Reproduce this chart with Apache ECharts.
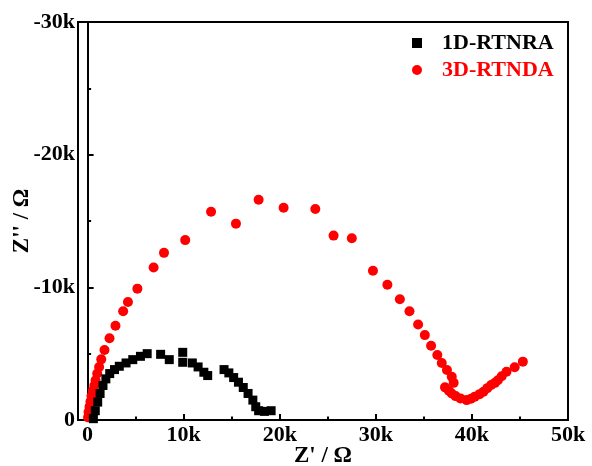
<!DOCTYPE html>
<html>
<head>
<meta charset="utf-8">
<script src="https://cdn.jsdelivr.net/npm/echarts@6/dist/echarts.min.js"></script>
<style>
  html, body { margin: 0; padding: 0; background: #fff; }
  #chart { width: 592px; height: 466px; }
</style>
</head>
<body>
<div id="chart"></div>
<script>
  // Z' (Ω) and Z'' (Ω)
  const rtnraX = [600, 800, 1050, 1300, 1600, 1900, 2300, 2800, 3300, 4000, 4700, 5500, 6200, 7600, 8500, 9900, 9900, 10900, 11500, 12100, 12500, 14200, 14700, 15200, 15700, 16200, 16700, 17200, 17500, 17800, 18400, 19100];
  const rtnraY = [-100, -700, -1350, -2000, -2600, -3100, -3500, -3800, -4050, -4300, -4550, -4800, -5000, -4950, -4550, -5100, -4350, -4300, -4000, -3600, -3350, -3800, -3550, -3200, -2850, -2450, -2000, -1500, -1000, -700, -650, -700];

  const rtndaX = [50, 100, 200, 300, 400, 550, 700, 830, 1000, 1200, 1420, 1760, 2280, 2900, 3700, 4200, 5180, 6870, 7950, 10160, 12850, 15440, 17800, 20400, 23700, 25600, 27500, 29700, 31200, 32500, 33500, 34400, 35100, 35750, 36400, 36860, 37400, 37900, 38100, 37200, 37600, 37900, 38300, 38800, 39450, 39900, 40300, 40800, 41200, 41600, 42000, 42400, 42700, 43100, 43600, 44450, 45300];
  const rtndaY = [-200, -600, -1000, -1400, -1800, -2200, -2600, -3000, -3500, -4000, -4570, -5270, -6160, -7100, -8200, -8900, -9900, -11500, -12600, -13560, -15700, -14800, -16600, -16000, -15900, -13900, -13700, -11250, -10200, -9100, -8200, -7200, -6400, -5600, -4900, -4300, -3770, -3260, -2800, -2460, -2200, -2000, -1800, -1630, -1500, -1600, -1760, -1950, -2130, -2400, -2640, -2800, -3000, -3300, -3640, -3970, -4400];

  const xMajorTicks = [0, 10000, 20000, 30000, 40000, 50000];
  const xMinorTicks = [5000, 15000, 25000, 35000, 45000];

  const font = "'Times New Roman', 'Liberation Serif', serif";
  const kFmt = (v) => (v === 0 ? '0' : v / 1000 + 'k');
  const pairs = (xs, ys) => xs.map((x, i) => [x, ys[i]]);

  const chart = echarts.init(document.getElementById('chart'));
  const option = {
    backgroundColor: '#fff',
    animation: false,
    grid: {
      left: 78,
      right: 24,
      top: 22,
      bottom: 46,
      outerBoundsMode: 'none',
      show: true,
      borderColor: '#000',
      borderWidth: 2,
    },
    legend: {
      orient: 'vertical',
      left: 407,
      top: 27,
      itemWidth: 40,
      itemHeight: 10,
      itemGap: 5,
      symbolKeepAspect: true,
      textStyle: { fontFamily: font, fontWeight: 'bold', fontSize: 22 },
      data: [
        { name: '1D-RTNRA', icon: 'path://M0,0H10V10H0Z', textStyle: { color: '#000' } },
        { name: '3D-RTNDA', icon: 'circle', textStyle: { color: '#ff0000' } },
      ],
    },
    xAxis: [
      {
        type: 'value',
        position: 'bottom',
        min: -1000,
        max: 50000,
        name: "Z' / Ω",
        nameLocation: 'middle',
        nameGap: 25,
        nameMoveOverlap: false,
        nameTextStyle: { fontFamily: font, fontWeight: 'bold', fontSize: 23, color: '#000' },
        axisLine: { lineStyle: { color: '#000', width: 2 } },
        axisTick: { inside: true, length: 6, customValues: xMajorTicks, lineStyle: { color: '#000', width: 2 } },
        axisLabel: { customValues: xMajorTicks, formatter: kFmt, margin: 4, fontFamily: font, fontWeight: 'bold', fontSize: 22, color: '#000' },
        splitLine: { show: false },
      },
      {
        type: 'value',
        position: 'bottom',
        min: -1000,
        max: 50000,
        axisLine: { show: false },
        axisTick: { inside: true, length: 3.5, customValues: xMinorTicks, lineStyle: { color: '#000', width: 2 } },
        axisLabel: { show: false },
        splitLine: { show: false },
      },
    ],
    yAxis: {
      type: 'value',
      inverse: true,
      min: -30000,
      max: 0,
      interval: 10000,
      name: "Z'' / Ω",
      nameLocation: 'middle',
      nameGap: 44,
      nameMoveOverlap: false,
      nameTextStyle: { fontFamily: font, fontWeight: 'bold', fontSize: 23, color: '#000' },
      axisLine: { lineStyle: { color: '#000', width: 2 } },
      axisTick: { inside: true, length: 6, lineStyle: { color: '#000', width: 2 } },
      minorTick: { show: true, splitNumber: 2, length: 3.5, lineStyle: { color: '#000', width: 2 } },
      axisLabel: { formatter: kFmt, margin: 3, fontFamily: font, fontWeight: 'bold', fontSize: 22, color: '#000' },
      splitLine: { show: false },
    },
    series: [
      {
        name: '3D-RTNDA',
        type: 'scatter',
        symbol: 'circle',
        symbolSize: 10,
        itemStyle: { color: '#ff0000', opacity: 1 },
        data: pairs(rtndaX, rtndaY),
      },
      {
        name: '1D-RTNRA',
        type: 'scatter',
        symbol: 'rect',
        symbolSize: 9,
        itemStyle: { color: '#000', opacity: 1 },
        data: pairs(rtnraX, rtnraY),
      },
    ],
  };
  chart.setOption(option);
</script>
</body>
</html>
